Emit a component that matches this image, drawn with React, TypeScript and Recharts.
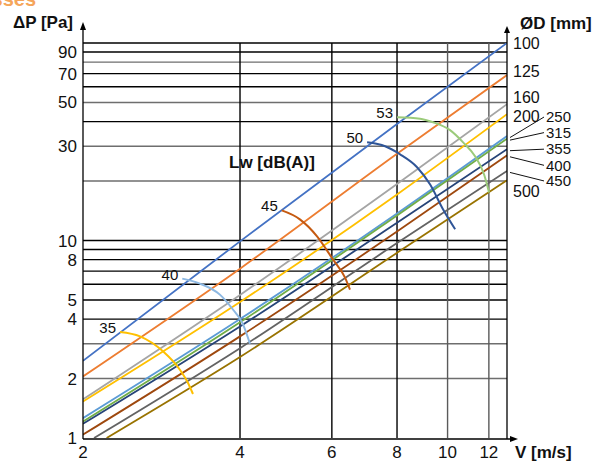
import { LineChart, Line, XAxis, YAxis, ReferenceLine, LabelList } from 'recharts';

// Duct diameters [mm] and their pressure-drop curves (V in m/s, dP in Pa)
const diameterNames = ['100', '125', '160', '200', '250', '315', '355', '400', '450', '500'];

const speeds = [2, 4, 8, 13];
const speeds450 = [2.1, 4, 8, 13];
const speeds500 = [2.22, 4, 8, 13];

const p100 = [2.46, 9.9, 38.9, 100];
const p125 = [2.05, 7.2, 27.5, 68.8];
const p160 = [1.57, 5.3, 19.3, 49];
const p200 = [1.53, 4.88, 17.1, 43.6];
const p250 = [1.26, 4.0, 13.7, 33.8];
const p315 = [1.21, 3.85, 13.4, 32.8];
const p355 = [1.18, 3.67, 12.3, 29];
const p400 = [1.04, 3.27, 11.1, 27];
const p450 = [1, 2.85, 9.7, 22.5];
const p500 = [1, 2.57, 8.66, 20.2];

// Sound power level curves Lw [dB(A)]
const lwNames = ['35', '40', '45', '50', '53'];
const lw35V = [2.355, 2.572, 2.85, 3.07, 3.18, 3.25];
const lw35P = [3.44, 3.27, 2.74, 2.21, 1.9, 1.67];
const lw40V = [3.1, 3.35, 3.66, 3.88, 4.04, 4.18];
const lw40P = [6.41, 6.05, 5.32, 4.46, 3.84, 3.0];
const lw45V = [4.81, 5.21, 5.62, 6.03, 6.36, 6.5];
const lw45P = [14.2, 12.8, 10.5, 8.01, 6.49, 5.64];
const lw50V = [7.01, 7.59, 8.11, 8.74, 9.26, 9.8, 10.34];
const lw50P = [31.4, 30.0, 27.3, 23.5, 19.2, 14.4, 11.4];
const lw53V = [8.0, 8.86, 9.38, 10.11, 10.71, 11.29, 11.75, 12.01];
const lw53P = [42.1, 41.4, 39.7, 36.2, 31.4, 26.7, 21.6, 17.5];

const xTicks = [2, 4, 6, 8, 10, 12];
const yTicks = [1, 2, 4, 5, 8, 10, 30, 50, 70, 90];
const gridX = [4, 6, 8, 10, 12];
const gridY = [2, 3, 4, 5, 6, 7, 8, 9, 10, 20, 30, 40, 50, 60, 70, 80, 90, 100];

// styling
const grayGridX = [10, 12];
const grayGridY = [2, 3, 20, 30, 50, 80];
const diameterColors = ['#4472C4', '#ED7D31', '#A5A5A5', '#FFC000', '#5B9BD5', '#70AD47', '#264478', '#9E480E', '#636363', '#997300'];
const diameterLabelDy = [0, -4, -7, 2, -19, -6, 0, 10, 10, 11];
const diameterLeader = [false, false, false, false, true, true, true, true, true, false];
const lwColors = ['#FFC000', '#8DB8E2', '#C55A11', '#2F5597', '#9BCB7A'];

const FONT = '"Liberation Sans", Arial, sans-serif';
const W = 598;
const H = 462;
const LEFT = 83;
const RIGHT = 507;
const TOP = 43;
const BOTTOM = 438;

const toPoints = (v: number[], p: number[]) => v.map((x, i) => ({ v: x, p: p[i] }));

const diameterSeries = [
  toPoints(speeds, p100),
  toPoints(speeds, p125),
  toPoints(speeds, p160),
  toPoints(speeds, p200),
  toPoints(speeds, p250),
  toPoints(speeds, p315),
  toPoints(speeds, p355),
  toPoints(speeds, p400),
  toPoints(speeds450, p450),
  toPoints(speeds500, p500),
];

const lwSeries = [
  toPoints(lw35V, lw35P),
  toPoints(lw40V, lw40P),
  toPoints(lw45V, lw45P),
  toPoints(lw50V, lw50P),
  toPoints(lw53V, lw53P),
];

function diameterLabel(i: number) {
  const last = diameterSeries[i].length - 1;
  return (props: any) => {
    const { x, y, index } = props;
    if (index !== last) return null;
    const ly = y + diameterLabelDy[i];
    const tx = diameterLeader[i] ? x + 39 : x + 6;
    return (
      <g key={`dl-${i}`}>
        {diameterLeader[i] && (
          <line x1={x + 3} y1={y + 1.5} x2={x + 37} y2={ly} stroke="#111" strokeWidth={1} />
        )}
        <text x={tx} y={ly} dy="0.35em" fontSize={diameterLeader[i] ? 15 : 16} fontFamily={FONT} fill="#111">
          {diameterNames[i]}
        </text>
      </g>
    );
  };
}

function lwLabel(i: number) {
  return (props: any) => {
    const { x, y, index } = props;
    if (index !== 0) return null;
    return (
      <text key={`lw-${i}`} x={x - 4} y={y + 1} textAnchor="end" fontSize={15} fontFamily={FONT} fill="#111">
        {lwNames[i]}
      </text>
    );
  };
}

export default function App() {
  return (
    <div style={{ position: 'absolute', left: 0, top: 0, width: W, height: H, background: '#fff' }}>
      <LineChart width={W} height={H} margin={{ top: TOP, right: W - RIGHT, bottom: 0, left: 0 }}>
        <XAxis
          dataKey="v"
          type="number"
          scale="log"
          domain={[2, 13]}
          ticks={xTicks}
          interval={0}
          allowDataOverflow
          axisLine={false}
          tickLine={false}
          height={H - BOTTOM}
          tick={{ fontSize: 17, fill: '#111', fontFamily: FONT }}
        />
        <YAxis
          dataKey="p"
          type="number"
          scale="log"
          domain={[1, 100]}
          ticks={yTicks}
          interval={0}
          allowDataOverflow
          axisLine={false}
          tickLine={false}
          tickMargin={0}
          width={LEFT}
          tick={{ fontSize: 17, fill: '#111', fontFamily: FONT }}
        />
        {gridY.map((g) => (
          <ReferenceLine key={`gy-${g}`} y={g} stroke={grayGridY.includes(g) ? '#6e6e6e' : '#000'} strokeWidth={1.4} />
        ))}
        {gridX.map((g) => (
          <ReferenceLine key={`gx-${g}`} x={g} stroke={grayGridX.includes(g) ? '#5a5a5a' : '#000'} strokeWidth={1.4} />
        ))}
        {diameterSeries.map((d, i) => (
          <Line
            key={`d-${diameterNames[i]}`}
            data={d}
            dataKey="p"
            type="monotone"
            stroke={diameterColors[i]}
            strokeWidth={1.8}
            dot={false}
            activeDot={false}
            isAnimationActive={false}
          >
            <LabelList dataKey="p" content={diameterLabel(i)} />
          </Line>
        ))}
        {lwSeries.map((d, i) => (
          <Line
            key={`lw-${lwNames[i]}`}
            data={d}
            dataKey="p"
            type="monotone"
            stroke={lwColors[i]}
            strokeWidth={2}
            dot={false}
            activeDot={false}
            isAnimationActive={false}
          >
            <LabelList dataKey="p" content={lwLabel(i)} />
          </Line>
        ))}
      </LineChart>

      {/* axes with arrows and titles */}
      <svg width={W} height={H} style={{ position: 'absolute', left: 0, top: 0, pointerEvents: 'none' }}>
        <text x={36} y={6} textAnchor="end" fontSize={20} fontWeight="bold" fontFamily={FONT} fill="#F5A55A">
          losses
        </text>
        <line x1={LEFT} y1={BOTTOM + 1} x2={LEFT} y2={28} stroke="#000" strokeWidth={1.3} />
        <path d={`M${LEFT - 3},30 L${LEFT},22 L${LEFT + 3},30 Z`} fill="#000" />
        <line x1={RIGHT} y1={BOTTOM + 1} x2={RIGHT} y2={31} stroke="#000" strokeWidth={1.3} />
        <path d={`M${RIGHT - 3},33 L${RIGHT},26 L${RIGHT + 3},33 Z`} fill="#000" />
        <line x1={LEFT} y1={BOTTOM + 1} x2={512} y2={BOTTOM + 1} stroke="#000" strokeWidth={1.3} />
        <path d={`M510,${BOTTOM - 2} L518,${BOTTOM + 1} L510,${BOTTOM + 4} Z`} fill="#000" />

        <text x={73} y={28} textAnchor="end" fontSize={17} fontWeight="bold" fontFamily={FONT} fill="#111">
          ΔP [Pa]
        </text>
        <text x={520} y={29} fontSize={17} fontWeight="bold" fontFamily={FONT} fill="#111">
          ØD [mm]
        </text>
        <text x={515} y={458} fontSize={17} fontWeight="bold" fontFamily={FONT} fill="#111">
          V [m/s]
        </text>
        <text x={229} y={168} fontSize={17} fontWeight="bold" fontFamily={FONT} fill="#111">
          Lw [dB(A)]
        </text>
      </svg>
    </div>
  );
}
